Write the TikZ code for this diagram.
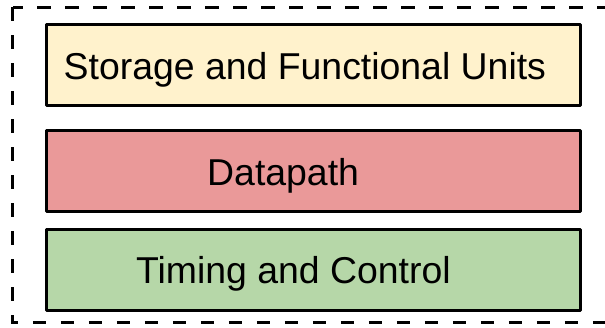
\documentclass[tikz,border=0pt]{standalone}
\usepackage{fontspec}
\setmainfont{Liberation Sans}
\definecolor{unitfill}{HTML}{FFF2CC}
\definecolor{pathfill}{HTML}{EA9999}
\definecolor{ctrlfill}{HTML}{B6D7A8}

\begin{document}
\begin{tikzpicture}[x=1pt, y=-1pt,
    layer/.style={draw=black, line width=3pt, line join=round,
        anchor=north west, inner sep=0pt, outer sep=0pt,
        minimum width=534pt, minimum height=81pt},
    caption/.style={anchor=base west, inner sep=0pt,
        font=\fontsize{37.4}{40}\selectfont}]
\useasboundingbox (0,0) rectangle (605,327);
% dashed frame round the three layers (right side runs off the page)
\draw[line width=3pt, dash pattern=on 13.5pt off 14.5pt]
    (12.5,7) rectangle (612,322.7);
% the layers, top to bottom
\node[layer, fill=unitfill] (store)  at (46.5,24)    {};
\node[layer, fill=pathfill] (dpath)  at (46.5,130.5) {};
\node[layer, fill=ctrlfill] (timing) at (46.5,229.5) {};
% captions
\node[caption] (storetext)  at (63.5,79.3)  {Storage and Functional Units};
\node[caption] (dpathtext)  at (207,185)    {Datapath};
\node[caption] (timingtext) at (136,283.3)  {Timing and Control};
\end{tikzpicture}
\end{document}
